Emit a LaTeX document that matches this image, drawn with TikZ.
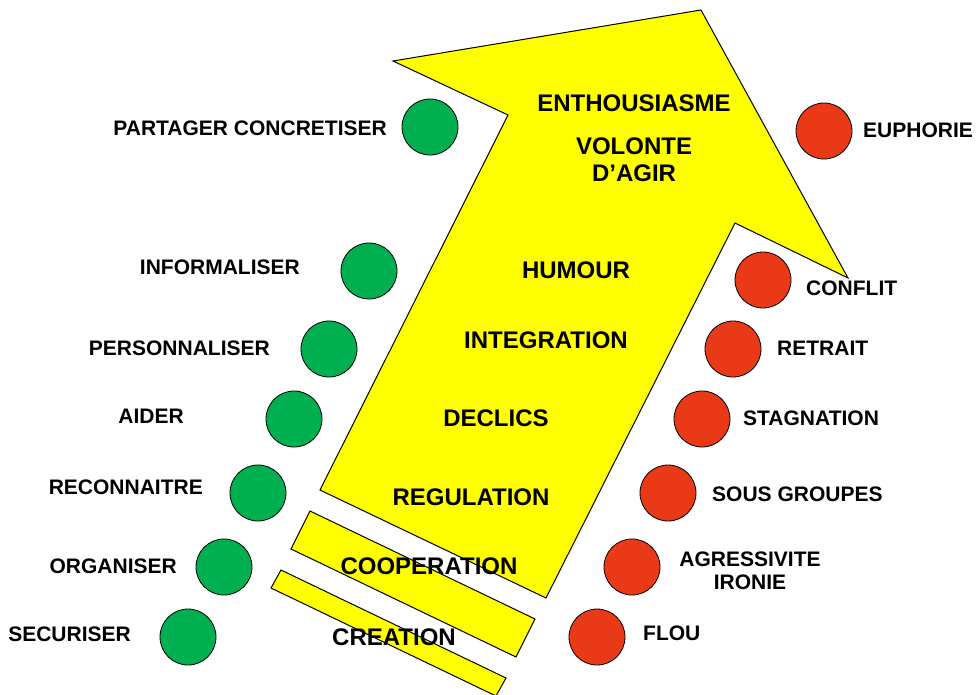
\documentclass[tikz,border=0pt]{standalone}
\usepackage{fontspec}
\setmainfont{Liberation Sans}
\usepackage{tikz}
\usetikzlibrary{shapes.geometric, calc, positioning}
\definecolor{arrowyellow}{RGB}{255,255,0}
\definecolor{okgreen}{RGB}{0,176,80}
\definecolor{badred}{RGB}{234,57,22}
\tikzstyle{band} = [draw=black, line width=1pt, fill=arrowyellow, line join=miter]
\tikzstyle{goodsign} = [circle, draw=black, line width=0.8pt, fill=okgreen, minimum size=56pt, inner sep=0pt]
\tikzstyle{badsign} = [circle, draw=black, line width=0.8pt, fill=badred, minimum size=56pt, inner sep=0pt]
\tikzstyle{side} = [inner sep=0pt, font=\fontsize{21}{23}\selectfont\bfseries, align=center]
\tikzstyle{stage} = [inner sep=0pt, font=\fontsize{24}{27}\selectfont\bfseries, align=center]

\begin{document}
\begin{tikzpicture}[x=1pt, y=-1pt]
	\useasboundingbox (0,0) rectangle (977,694);
	% big arrow and the two bars below it
	\draw [band] (701,10) -- (848,278) -- (735,223) -- (546,598) -- (320,490) -- (508,115) -- (393,61) -- cycle;
	\draw [band] (310,511) -- (535,619) -- (516,657) -- (291,549) -- cycle;
	\draw [band] (281,570) -- (506,678) -- (496,696) -- (271,588) -- cycle;
	% stages on the arrow
	\node (Enthousiasme) [stage] at (634,103) {ENTHOUSIASME};
	\node (Volonte) [stage] at (634,160) {VOLONTE\\D’AGIR};
	\node (Humour) [stage] at (576,270) {HUMOUR};
	\node (Integration) [stage] at (546,340) {INTEGRATION};
	\node (Declics) [stage] at (496,418) {DECLICS};
	\node (Regulation) [stage] at (471,497) {REGULATION};
	\node (Cooperation) [stage] at (429,566) {COOPERATION};
	\node (Creation) [stage] at (394,637) {CREATION};
	% green side
	\node (Partager) [goodsign] at (430,127) {};
	\node (Informaliser) [goodsign] at (369,271) {};
	\node (Personnaliser) [goodsign] at (329,349) {};
	\node (Aider) [goodsign] at (294,419) {};
	\node (Reconnaitre) [goodsign] at (258,493) {};
	\node (Organiser) [goodsign] at (224,567) {};
	\node (Securiser) [goodsign] at (188,637) {};
	\node (PartagerText) [side, anchor=east] at (387,128) {PARTAGER CONCRETISER};
	\node (InformaliserText) [side, anchor=east] at (300,267) {INFORMALISER};
	\node (PersonnaliserText) [side, anchor=east] at (270,348) {PERSONNALISER};
	\node (AiderText) [side, anchor=east] at (184,416) {AIDER};
	\node (ReconnaitreText) [side, anchor=east] at (203,487) {RECONNAITRE};
	\node (OrganiserText) [side, anchor=east] at (177,566) {ORGANISER};
	\node (SecuriserText) [side, anchor=east] at (131,634) {SECURISER};
	% red side
	\node (Euphorie) [badsign] at (824,131) {};
	\node (Conflit) [badsign] at (763,280) {};
	\node (Retrait) [badsign] at (733,349) {};
	\node (Stagnation) [badsign] at (702,419) {};
	\node (SousGroupes) [badsign] at (668,493) {};
	\node (Agressivite) [badsign] at (632,567) {};
	\node (Flou) [badsign] at (597,637) {};
	\node (EuphorieText) [side, anchor=west] at (863,130) {EUPHORIE};
	\node (ConflitText) [side, anchor=west] at (806,288) {CONFLIT};
	\node (RetraitText) [side, anchor=west] at (777,348) {RETRAIT};
	\node (StagnationText) [side, anchor=west] at (743,418) {STAGNATION};
	\node (SousGroupesText) [side, anchor=west] at (712,494) {SOUS GROUPES};
	\node (AgressiviteText) [side] at (750,571) {AGRESSIVITE\\IRONIE};
	\node (FlouText) [side, anchor=west] at (643,633) {FLOU};
\end{tikzpicture}
\end{document}
